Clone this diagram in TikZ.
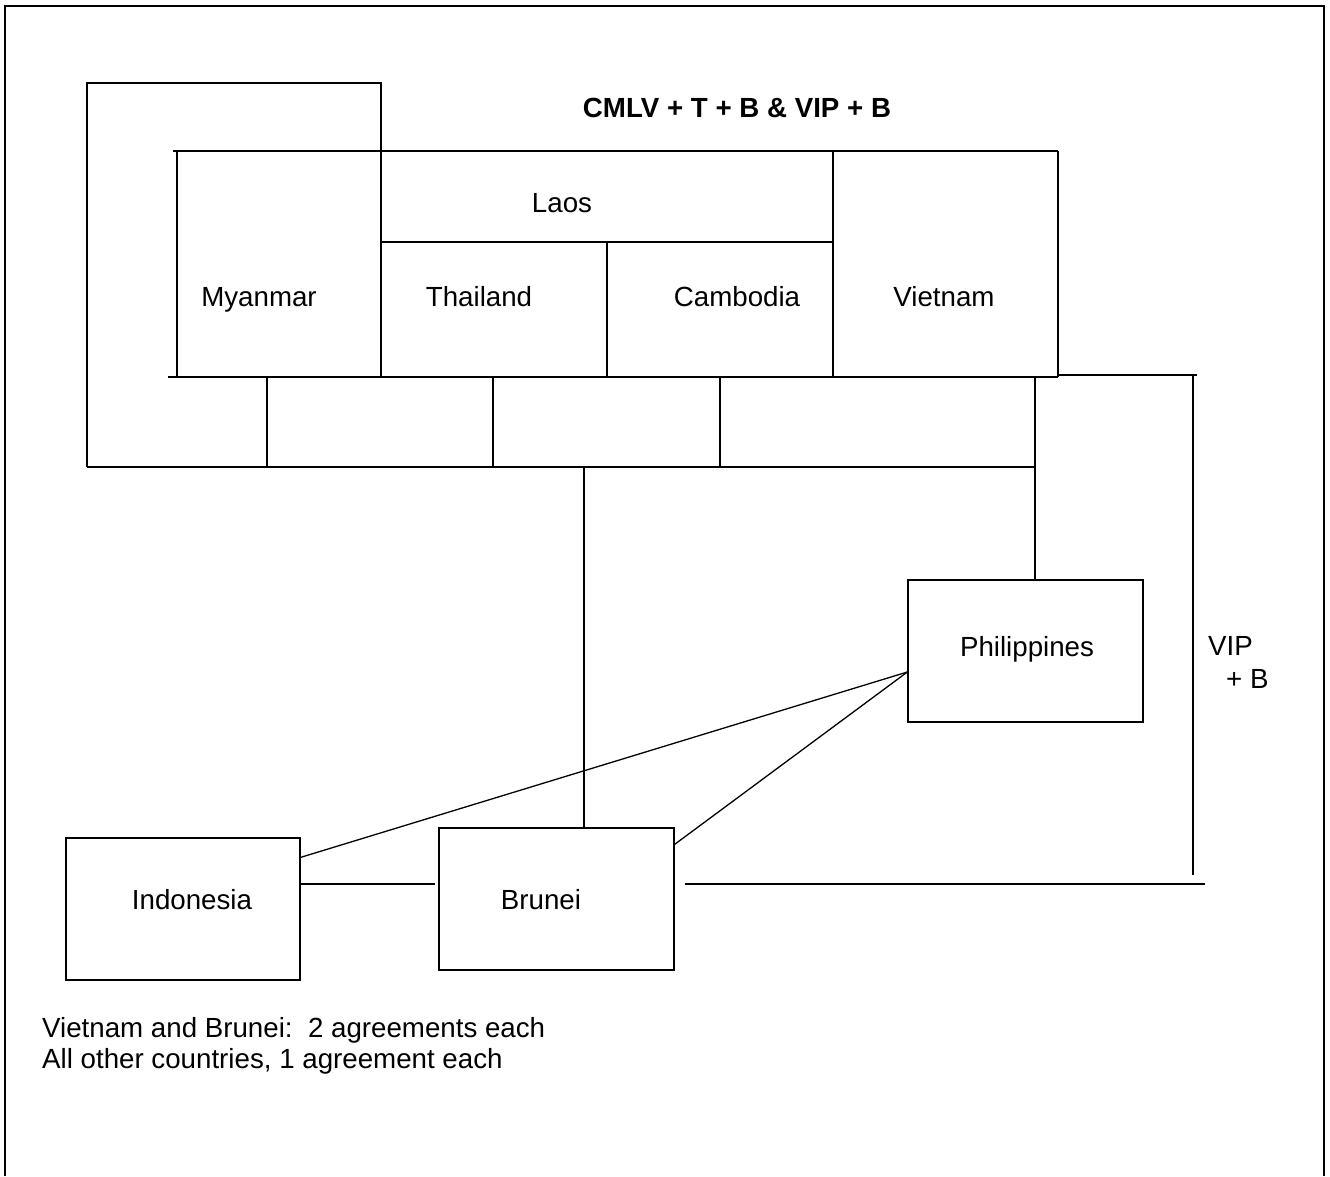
\documentclass[tikz,border=0pt]{standalone}
\usepackage{fontspec}
\setmainfont{Liberation Sans}
\begin{document}
\begin{tikzpicture}[x=1pt,y=-1pt,
  ln/.style={line width=1.3pt},
  frame/.style={line width=2pt},
  txt/.style={inner sep=0pt,text height=20pt,text depth=0pt,font=\fontsize{27.7}{31}\selectfont},
  boldtxt/.style={txt,font=\fontsize{27.7}{31}\selectfont\bfseries},
  cbox/.style={draw,line width=1.3pt,inner sep=0pt,minimum width=235pt,minimum height=142pt}]
\useasboundingbox (0,0) rectangle (1330,1176);
% outer frame (open at bottom)
\draw[frame] (5,1176) -- (5,6) -- (1324,6) -- (1324,1176);
% title
\node[boldtxt] (title) at (737,107) {CMLV + T + B \& VIP + B};
% big CMLV+T+B outline
\draw[ln] (87,467) -- (87,83) -- (381,83) -- (381,377);
\draw[ln] (87,467) -- (1035,467);
% inner grid
\draw[ln] (173,151) -- (1058,151);
\draw[ln] (177,151) -- (177,377);
\draw[ln] (381,242) -- (833,242);
\draw[ln] (607,242) -- (607,377);
\draw[ln] (833,151) -- (833,377);
\draw[ln] (1058,151) -- (1058,377);
\draw[ln] (168,377) -- (1058,377);
\draw[ln] (267,377) -- (267,467);
\draw[ln] (493,377) -- (493,467);
\draw[ln] (720,377) -- (720,467);
% country labels
\node[txt] (laos) at (562,202) {Laos};
\node[txt] (myanmar) at (259,296) {Myanmar};
\node[txt] (thailand) at (479,296) {Thailand};
\node[txt] (cambodia) at (737,296) {Cambodia};
\node[txt] (vietnam) at (944,296) {Vietnam};
% boxes
\node[cbox] (phil) at (1025.5,651) {};
\node[txt] (philT) at (1027,646) {Philippines};
\node[cbox,minimum width=234pt] (indo) at (183,909) {};
\node[txt] (indoT) at (192,899) {Indonesia};
\node[cbox] (brunei) at (556.5,899) {};
\node[txt] (bruneiT) at (541,899) {Brunei};
% connectors
\coordinate (gridPhil) at (1035,377);
\draw[ln] (gridPhil) -- (gridPhil |- phil.north);
\coordinate (gridBru) at (584,467);
\draw[ln] (gridBru) -- (gridBru |- brunei.north);
\draw[ln] ([yshift=-20pt]indo.north east) -- ([yshift=-21pt]phil.west);
\draw[ln] ([yshift=-17pt]brunei.north east) -- ([yshift=-21pt]phil.west);
\draw[ln] ([yshift=25pt]indo.east) -- ([xshift=-3pt,yshift=15pt]brunei.west);
% VIP + B bracket
\coordinate (vipTop) at (1058,375);
\coordinate (vipCorner) at (1197,375);
\coordinate (vipEnd) at (1205,884);
\draw[ln] (vipTop) -- (vipCorner);
\draw[ln] (1193,375) -- (1193,875);
\draw[ln] ([xshift=10pt,yshift=15pt]brunei.east) -- (vipEnd);
\node[txt,anchor=west] (vip) at (1208,645) {VIP};
\node[txt,anchor=west] (vipb) at (1226,678) {+ B};
% notes
\node[txt,anchor=west] (note1) at (42,1027) {Vietnam and Brunei:\ \ 2 agreements each};
\node[txt,anchor=west] (note2) at (42,1058) {All other countries, 1 agreement each};
\end{tikzpicture}
\end{document}
